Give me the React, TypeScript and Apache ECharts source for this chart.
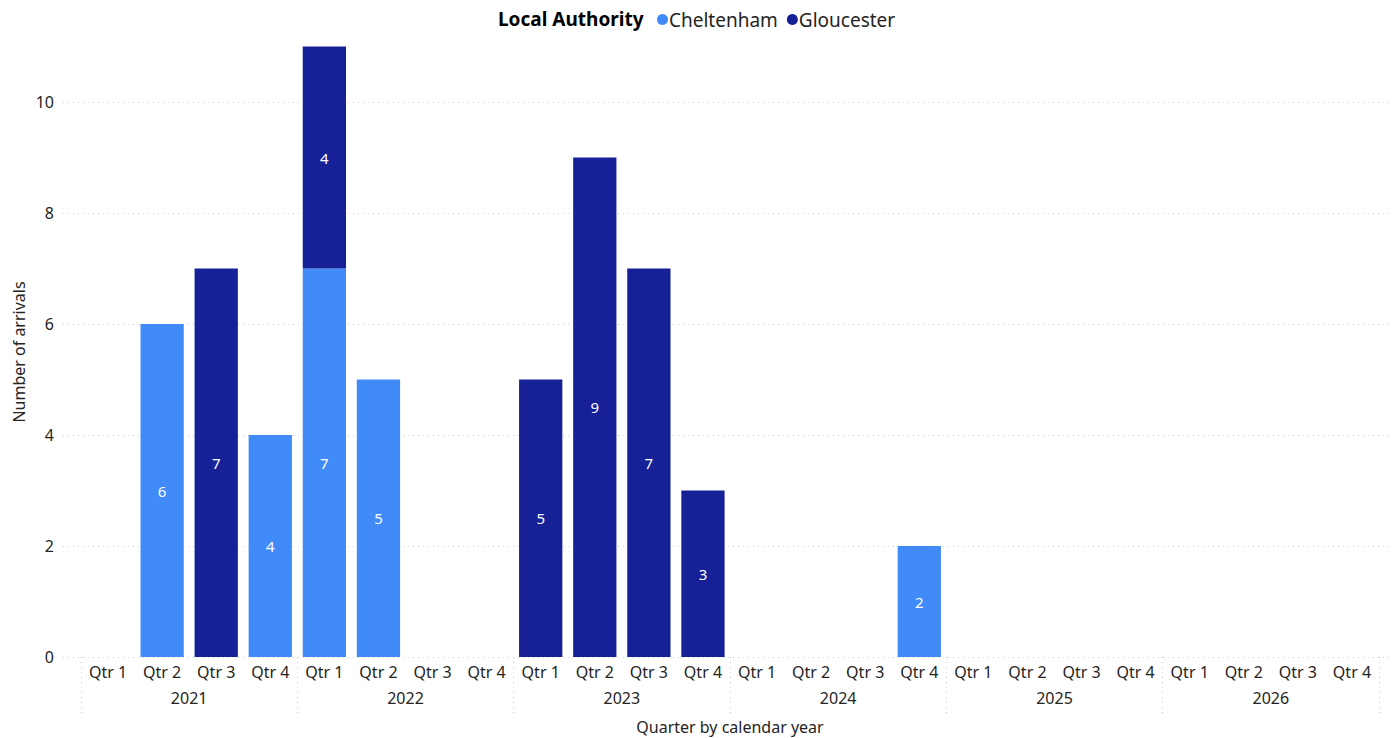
import React, { useEffect, useRef } from "react";
import * as echarts from "echarts";

const quarters = [
  "Qtr 1", "Qtr 2", "Qtr 3", "Qtr 4",
  "Qtr 1", "Qtr 2", "Qtr 3", "Qtr 4",
  "Qtr 1", "Qtr 2", "Qtr 3", "Qtr 4",
  "Qtr 1", "Qtr 2", "Qtr 3", "Qtr 4",
  "Qtr 1", "Qtr 2", "Qtr 3", "Qtr 4",
  "Qtr 1", "Qtr 2", "Qtr 3", "Qtr 4",
];
const years = ["2021", "2022", "2023", "2024", "2025", "2026"];
const cheltenham: (number | null)[] = [
  null, 6, null, 4,
  7, 5, null, null,
  null, null, null, null,
  null, null, null, 2,
  null, null, null, null,
  null, null, null, null,
];
const gloucester: (number | null)[] = [
  null, null, 7, null,
  4, null, null, null,
  5, 9, 7, 3,
  null, null, null, null,
  null, null, null, null,
  null, null, null, null,
];

const FONT = "'Segoe UI', 'Noto Sans', 'Open Sans', sans-serif";
const TXT = "#252423";

export default function App() {
  const ref = useRef<HTMLDivElement>(null);
  useEffect(() => {
    if (!ref.current) return;
    const chart = echarts.init(ref.current, undefined, { renderer: "svg" });
    const label = {
      show: true,
      position: "inside",
      color: "#ffffff",
      fontSize: 15,
      fontFamily: FONT,
    };
    chart.setOption({
      animation: false,
      textStyle: { fontFamily: FONT },
      legend: {
        left: 652,
        top: 5,
        icon: "circle",
        itemWidth: 11,
        itemHeight: 11,
        itemGap: 9,
        textStyle: { fontSize: 19, color: TXT, fontFamily: FONT, padding: [0, 0, 0, -4] },
        data: ["Cheltenham", "Gloucester"],
      },
      graphic: [
        {
          type: "text",
          x: 498,
          y: 19,
          style: {
            text: "Local Authority",
            fontSize: 19,
            fontWeight: "bold",
            fill: "#000000",
            fontFamily: FONT,
            textVerticalAlign: "middle",
          },
        },
        {
          type: "text",
          x: 19,
          y: 352,
          rotation: Math.PI / 2,
          style: {
            text: "Number of arrivals",
            fontSize: 16,
            fill: TXT,
            fontFamily: FONT,
            textAlign: "center",
            textVerticalAlign: "middle",
          },
        },
      ],
      grid: [
        { left: 81, right: 18, top: 102, bottom: 81, containLabel: false, outerBoundsMode: "none" },
        { left: 63, right: 5, top: 102, bottom: 81, containLabel: false, outerBoundsMode: "none" },
      ],
      xAxis: [
        {
          type: "category",
          gridIndex: 0,
          data: quarters,
          axisLine: { show: false },
          axisTick: { show: false },
          axisLabel: { color: TXT, fontSize: 16, margin: 7, interval: 0, fontFamily: FONT },
        },
        {
          type: "category",
          gridIndex: 0,
          position: "bottom",
          data: years,
          axisLine: { show: false },
          axisTick: {
            show: true,
            length: 60,
            lineStyle: { color: "#c8c8c8", type: [1, 4], width: 1 },
          },
          axisLabel: { color: TXT, fontSize: 16, margin: 33, interval: 0, fontFamily: FONT },
          name: "Quarter by calendar year",
          nameLocation: "middle",
          nameGap: 62,
          nameTextStyle: { color: TXT, fontSize: 16, fontFamily: FONT },
        },
        {
          type: "value",
          gridIndex: 1,
          show: false,
          min: 0,
          max: 1,
        },
      ],
      yAxis: [
        {
          type: "value",
          gridIndex: 0,
          min: 0,
          max: 10,
          interval: 2,
          splitLine: { show: false },
          axisLine: { show: false },
          axisTick: { show: false },
          axisLabel: { color: TXT, fontSize: 16, margin: 27, fontFamily: FONT },
        },
        {
          type: "value",
          gridIndex: 1,
          min: 0,
          max: 10,
          interval: 2,
          axisLine: { show: false },
          axisTick: { show: false },
          axisLabel: { show: false },
          splitLine: { show: true, lineStyle: { color: "#d0d0d0", type: [1, 4], width: 1 } },
        },
      ],
      series: [
        {
          name: "Cheltenham",
          type: "bar",
          stack: "la",
          xAxisIndex: 0,
          yAxisIndex: 0,
          data: cheltenham,
          barWidth: "80%",
          clip: false,
          itemStyle: { color: "#418BF9" },
          label,
        },
        {
          name: "Gloucester",
          type: "bar",
          stack: "la",
          xAxisIndex: 0,
          yAxisIndex: 0,
          data: gloucester,
          barWidth: "80%",
          clip: false,
          itemStyle: { color: "#172197" },
          label,
        },
      ],
    });
    return () => chart.dispose();
  }, []);
  return <div ref={ref} style={{ width: 1397, height: 738, position: "absolute", left: 0, top: 0 }} />;
}
